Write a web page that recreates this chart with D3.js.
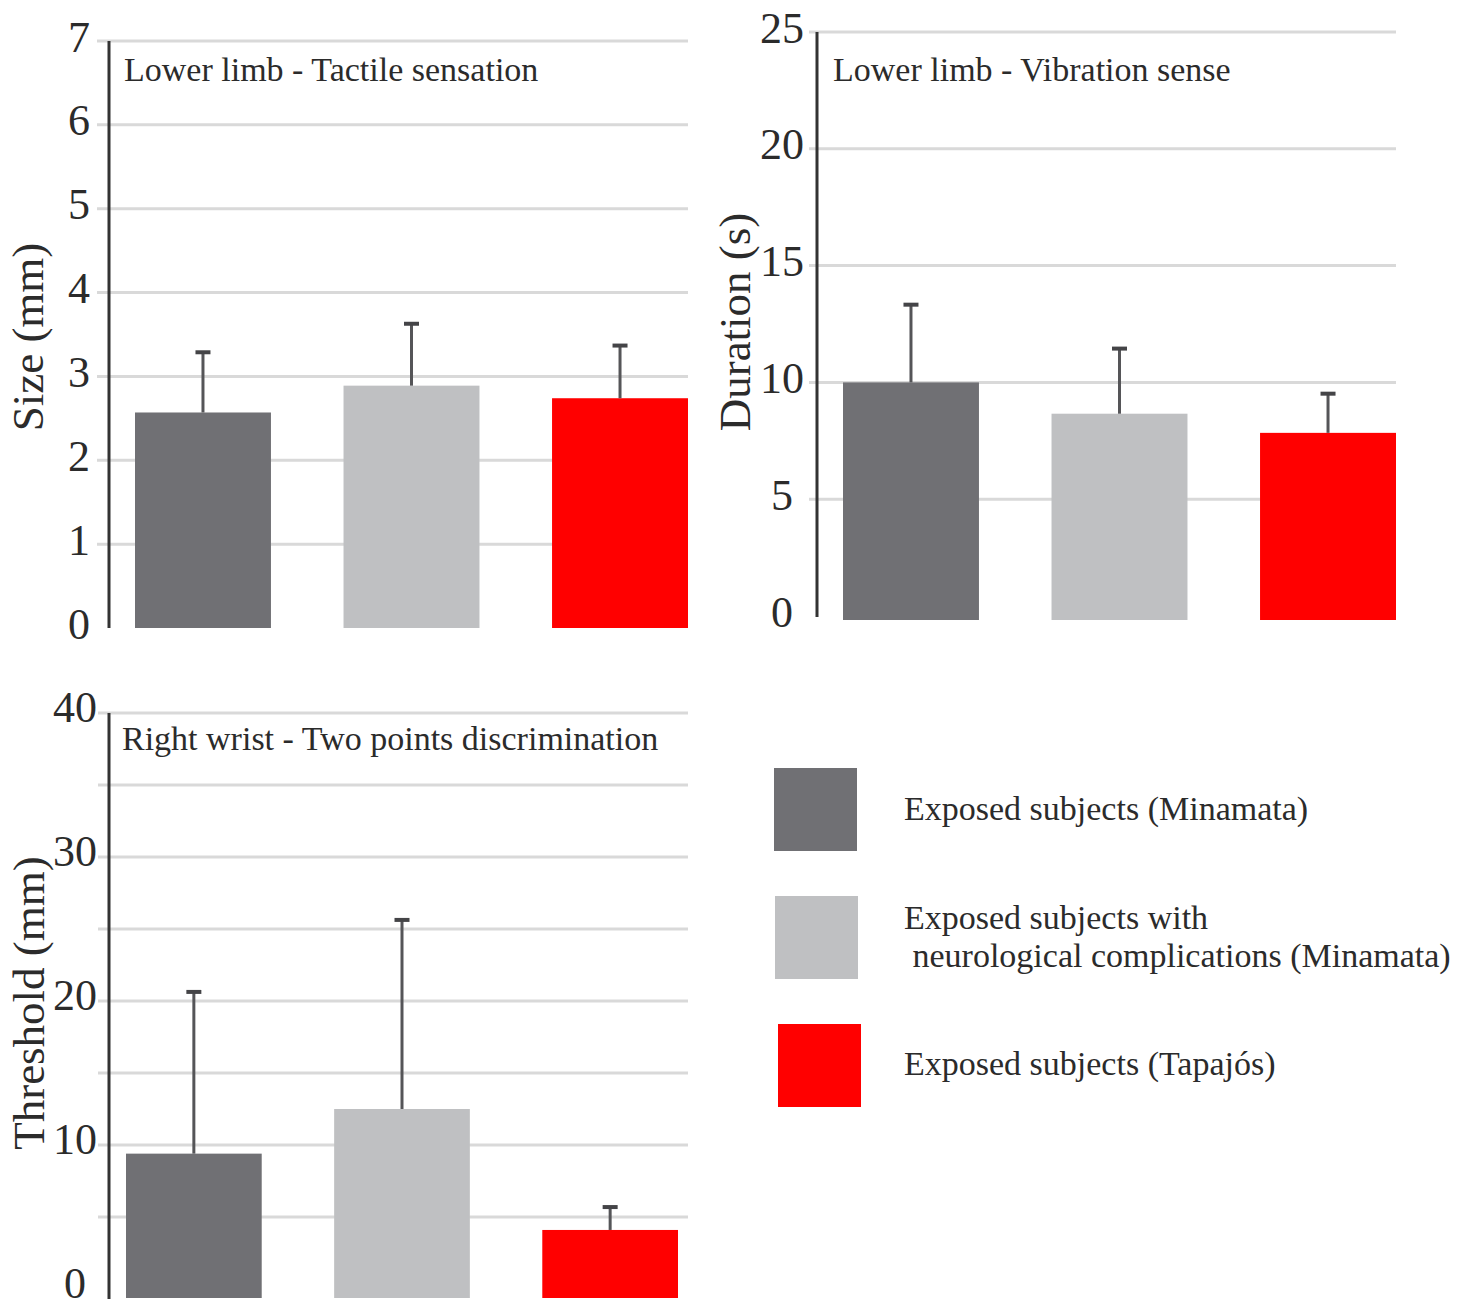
<!DOCTYPE html>
<html>
<head>
<meta charset="utf-8">
<script src="https://cdn.jsdelivr.net/npm/d3@7"></script>
<style>
  html, body { margin: 0; padding: 0; background: #fff; }
  svg { display: block; }
  text { font-family: "Liberation Serif", "Times New Roman", serif; fill: #2b2b2b; }
</style>
</head>
<body>
<script>
// ---------- data ----------
const groups = ["Exposed subjects (Minamata)",
                "Exposed subjects with neurological complications (Minamata)",
                "Exposed subjects (Tapajós)"];
const groupColors = ["#707074", "#bfc0c2", "#ff0000"];

const tactileMean = [2.57, 2.89, 2.74];
const tactileSD   = [0.73, 0.75, 0.64];
const tactileTicks = [0, 1, 2, 3, 4, 5, 6, 7];
const tactileGrid  = [1, 2, 3, 4, 5, 6, 7];

const vibrationMean = [10.0, 8.66, 7.84];
const vibrationSD   = [3.37, 2.83, 1.72];
const vibrationTicks = [0, 5, 10, 15, 20, 25];
const vibrationGrid  = [5, 10, 15, 20, 25];

const twoPointMean = [9.4, 12.5, 4.1];
const twoPointSD   = [11.3, 13.2, 1.66];
const twoPointTicks = [0, 10, 20, 30, 40];
const twoPointGrid  = [5, 10, 15, 20, 25, 30, 35, 40];

const legendLines = [["Exposed subjects (Minamata)"],
                     ["Exposed subjects with", " neurological complications (Minamata)"],
                     ["Exposed subjects (Tapajós)"]];

// ---------- layout ----------
const W = 1469, H = 1308;
const svg = d3.select("body").append("svg").attr("width", W).attr("height", H);

const panels = [
  { title: "Lower limb - Tactile sensation", yTitle: "Size (mm)",
    mean: tactileMean, sd: tactileSD, ticks: tactileTicks, grid: tactileGrid,
    max: 7, zeroY: 628, topY: 41, axisX: 109, axisBottom: 628, barDrop: 0,
    barRange: [135, 688], gridX: [97, 688], labelX: 79, labelDy: 10,
    titleX: 124, titleY: 81, yTitleX: 43, yTitleY: 337 },
  { title: "Lower limb - Vibration sense", yTitle: "Duration (s)",
    mean: vibrationMean, sd: vibrationSD, ticks: vibrationTicks, grid: vibrationGrid,
    max: 25, zeroY: 616, topY: 32, axisX: 817, axisBottom: 617, barDrop: 4,
    barRange: [843, 1396], gridX: [809, 1396], labelX: 782, labelDy: 10,
    titleX: 833, titleY: 81, yTitleX: 750, yTitleY: 322 },
  { title: "Right wrist - Two points discrimination", yTitle: "Threshold (mm)",
    mean: twoPointMean, sd: twoPointSD, ticks: twoPointTicks, grid: twoPointGrid,
    max: 40, zeroY: 1289, topY: 713, axisX: 109, axisBottom: 1299, barDrop: 9,
    barRange: [126, 678], gridX: [98, 688], labelX: 75, labelDy: 8,
    titleX: 122, titleY: 750, yTitleX: 44, yTitleY: 1003 }
];

panels.forEach(p => {
  const g = svg.append("g");
  const y = d3.scaleLinear().domain([0, p.max]).range([p.zeroY, p.topY]);
  const x = d3.scaleBand().domain(d3.range(groups.length))
    .range(p.barRange).paddingInner(0.348).paddingOuter(0);

  // gridlines
  g.append("g").selectAll("line").data(p.grid).join("line")
    .attr("x1", p.gridX[0]).attr("x2", p.gridX[1])
    .attr("y1", d => y(d)).attr("y2", d => y(d))
    .attr("stroke", "#d9d9d9").attr("stroke-width", 3);

  // tick labels via d3 axis
  const ax = g.append("g").attr("transform", `translate(${p.labelX},0)`)
    .call(d3.axisLeft(y).tickValues(p.ticks).tickSize(0).tickPadding(0).tickFormat(d3.format("d")));
  ax.attr("font-family", null).attr("font-size", null);
  ax.select(".domain").remove();
  ax.selectAll("text")
    .attr("x", 0).attr("dy", null).attr("y", p.labelDy)
    .attr("text-anchor", "middle")
    .style("font-family", '"Liberation Serif", "Times New Roman", serif')
    .style("font-size", "44px").style("fill", "#2b2b2b");

  // bars
  g.append("g").selectAll("rect").data(p.mean).join("rect")
    .attr("x", (d, i) => x(i)).attr("width", x.bandwidth())
    .attr("y", d => y(d)).attr("height", d => y(0) + p.barDrop - y(d))
    .attr("fill", (d, i) => groupColors[i]);

  // error bars
  const eb = g.append("g").selectAll("g").data(p.mean).join("g");
  eb.append("line")
    .attr("x1", (d, i) => x(i) + x.bandwidth() / 2).attr("x2", (d, i) => x(i) + x.bandwidth() / 2)
    .attr("y1", d => y(d)).attr("y2", (d, i) => y(d + p.sd[i]))
    .attr("stroke", "#555558").attr("stroke-width", 3);
  eb.append("line")
    .attr("x1", (d, i) => x(i) + x.bandwidth() / 2 - 7.5).attr("x2", (d, i) => x(i) + x.bandwidth() / 2 + 7.5)
    .attr("y1", (d, i) => y(d + p.sd[i]) + 1).attr("y2", (d, i) => y(d + p.sd[i]) + 1)
    .attr("stroke", "#444447").attr("stroke-width", 4);

  // axis line
  g.append("line").attr("x1", p.axisX).attr("x2", p.axisX)
    .attr("y1", p.topY).attr("y2", p.axisBottom)
    .attr("stroke", "#333").attr("stroke-width", 3);

  // panel title
  g.append("text").attr("x", p.titleX).attr("y", p.titleY)
    .style("font-size", "34px").text(p.title);

  // y title
  g.append("text")
    .attr("transform", `translate(${p.yTitleX},${p.yTitleY}) rotate(-90)`)
    .attr("text-anchor", "middle")
    .style("font-size", "45px").text(p.yTitle);
});

// ---------- legend ----------
const legendRects = [[774, 768], [775, 896], [778, 1024]];
const legendBaselines = [[820], [929, 967], [1075]];
const lg = svg.append("g");
groups.forEach((gname, i) => {
  lg.append("rect").attr("x", legendRects[i][0]).attr("y", legendRects[i][1])
    .attr("width", 83).attr("height", 83).attr("fill", groupColors[i]);
  legendLines[i].forEach((line, j) => {
    lg.append("text").attr("x", 904).attr("y", legendBaselines[i][j])
      .style("font-size", "34px").style("white-space", "pre").text(line);
  });
});
</script>
</body>
</html>
